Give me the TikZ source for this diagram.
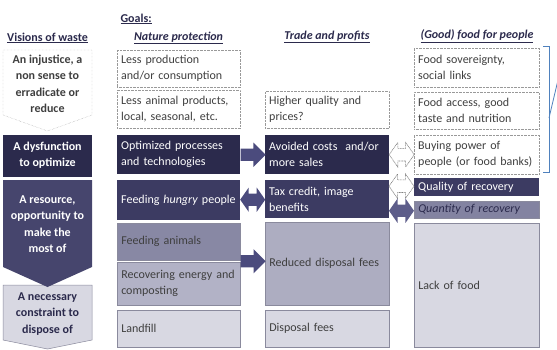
\documentclass[tikz,border=0pt]{standalone}
\usepackage{fontspec}
\setmainfont{Carlito}
\usetikzlibrary{calc,shapes.arrows}
\definecolor{navyA}{HTML}{2B2A4C}
\definecolor{navyB}{HTML}{3C3B62}
\definecolor{navyC}{HTML}{46456D}
\definecolor{lilacA}{HTML}{8888A4}
\definecolor{lilacB}{HTML}{B2B2C6}
\definecolor{lilacC}{HTML}{ADADC1}
\definecolor{lilacD}{HTML}{D8D8E2}
\definecolor{lilacQ}{HTML}{8383A1}
\definecolor{arrowfill}{HTML}{4B4B7D}
\definecolor{textgray}{HTML}{3F3F3F}
\definecolor{bracketblue}{HTML}{4F81BD}

\begin{document}
\begin{tikzpicture}
      [x=1pt, y=-1pt,
      every node/.style={font=\fontsize{12}{16}\selectfont, text=textgray},
      head/.style={font=\fontsize{12}{14}\selectfont\bfseries, text=navyA},
      vision/.style={font=\fontsize{12}{16.5}\selectfont\bfseries, align=center},
      box/.style={anchor=north west, inner xsep=4pt, inner ysep=0pt, align=left, minimum height=#1},
      colB/.style={text width=115pt},
      colC/.style={text width=116pt},
      colD/.style={text width=117pt},
      dotbox/.style={draw=gray!80, densely dotted},
      darkbox/.style={fill=navyA, text=white},
      darkerbox/.style={fill=navyB, text=white},
      solidbox/.style={fill=#1, draw=navyA!55, line width=0.5pt},
      blockarr/.style={single arrow, fill=arrowfill, inner sep=0pt, inner ysep=6pt,
        single arrow head extend=6pt, minimum height=25pt, anchor=tail},
      twoarr/.style={double arrow, fill=arrowfill, inner sep=0pt, inner ysep=6pt,
        double arrow head extend=6pt, double arrow tip angle=110, minimum height=25pt},
      ghostarr/.style={twoarr, fill=white, draw=gray, dash pattern=on 1pt off 0.6pt, line width=0.6pt}]
      \useasboundingbox (0,0) rectangle (557,349);

      % headers
      \node[head, anchor=west] (goals) at (117,19) {\underline{Goals:}};
      \node[head] (visions) at (47.5,38) {\underline{Visions of waste}};
      \node[head] (nature) at (178.5,38) {\underline{\textit{Nature protection}}};
      \node[head] (trade) at (327,37) {\underline{\textit{Trade and profits}}};
      \node[head] (goodfood) at (477,36) {\underline{\textit{(Good) food for people}}};

      % visions of waste
      \draw[solidbox=lilacD] (3,285) -- (92,285) -- (92,340) -- (47.5,349) -- (3,340) -- cycle;
      \fill[navyC] (3,180) -- (92,180) -- (92,267) -- (47.5,287) -- (3,267) -- cycle;
      \draw[dotbox] (3,50) -- (92,50) -- (92,115) -- (47.5,131) -- (3,115) -- cycle;
      \fill[navyA] (3,135) rectangle (92,177);
      \node[vision] (injustice) at (47.5,84) {An injustice, a\\non sense to\\erradicate or\\reduce};
      \node[vision, text=white] (dysfunction) at (47.5,155) {A dysfunction\\to optimize};
      \node[vision, text=white] (resource) at (47.5,224) {A resource,\\opportunity to\\make the\\most of};
      \node[vision, text=navyA] (constraint) at (47.5,314) {A necessary\\constraint to\\dispose of};

      % nature protection
      \node[box=37pt, colB, dotbox] (lessprod) at (117,50) {Less production\\and/or consumption};
      \node[box=38pt, colB, dotbox] (lessanim) at (117,90) {Less animal products,\\local, seasonal, etc.};
      \node[box=39pt, colB, darkbox] (optim) at (117,135) {Optimized processes\\and technologies};
      \node[box=40pt, colB, darkerbox] (feedhun) at (117,180) {Feeding \textit{hungry} people};
      \node[box=37pt, colB, solidbox=lilacA] (feedani) at (117,223) {Feeding animals};
      \node[box=43pt, colB, solidbox=lilacB] (recov) at (117,262) {Recovering energy and\\composting};
      \node[box=37pt, colB, solidbox=lilacD] (landfill) at (117,310) {Landfill};

      % trade and profits
      \node[box=37pt, colC, dotbox] (higher) at (265,91) {Higher quality and\\prices?};
      \node[box=39pt, colC, darkbox] (avoided) at (265,135) {Avoided costs\ \ and/or\\more sales};
      \node[box=38pt, colC, darkerbox] (taxcred) at (265,180) {Tax credit, image\\benefits};
      \node[box=83pt, colC, solidbox=lilacC] (reduced) at (265,222) {Reduced disposal fees};
      \node[box=37pt, colC, solidbox=lilacD] (disposal) at (265,310) {Disposal fees};

      % (good) food for people
      \node[box=39pt, colD, dotbox] (sovereign) at (414,48) {Food sovereignty,\\social links};
      \node[box=37pt, colD, dotbox] (access) at (414,92) {Food access, good\\taste and nutrition};
      \node[box=39pt, colD, dotbox] (buying) at (414,135) {Buying power of\\people (or food banks)};
      \node[box=18pt, colD, darkerbox] (quality) at (414,178) {Quality of recovery};
      \node[box=17pt, colD, solidbox=lilacQ, text=navyA] (quantity) at (414,201) {\textit{Quantity of recovery}};
      \node[box=124pt, colD, solidbox=lilacD] (lack) at (414,223) {Lack of food};

      % arrows
      \node[blockarr] (arrOptim) at (optim.east) {};
      \node[twoarr] (arrHungry) at ($(feedhun.east)!.5!(taxcred.west)$) {};
      \node[blockarr] (arrRecov) at ($(feedani.south east)!.5!(recov.north east)$) {};
      \node[ghostarr] (arrBuying) at ($(avoided.east)!.5!(buying.west)$) {};
      \node[ghostarr] (arrQuality) at ($(quality.west)+(-12.5,-1)$) {};
      \node[twoarr, fill=arrowfill!90!white] (arrQuantity) at ($(quantity.west)+(-12.5,1)$) {};

      % bracket
      \coordinate (brTop) at (543,46);
      \coordinate (brBot) at (543,172);
      \coordinate (brMid) at (549,118);
      \draw[bracketblue, line width=0.8pt] (brTop) -- ++(6,0) |- (brBot);
      \draw[bracketblue, line width=0.8pt] (brMid) -- (558,80);
    \end{tikzpicture}
\end{document}
